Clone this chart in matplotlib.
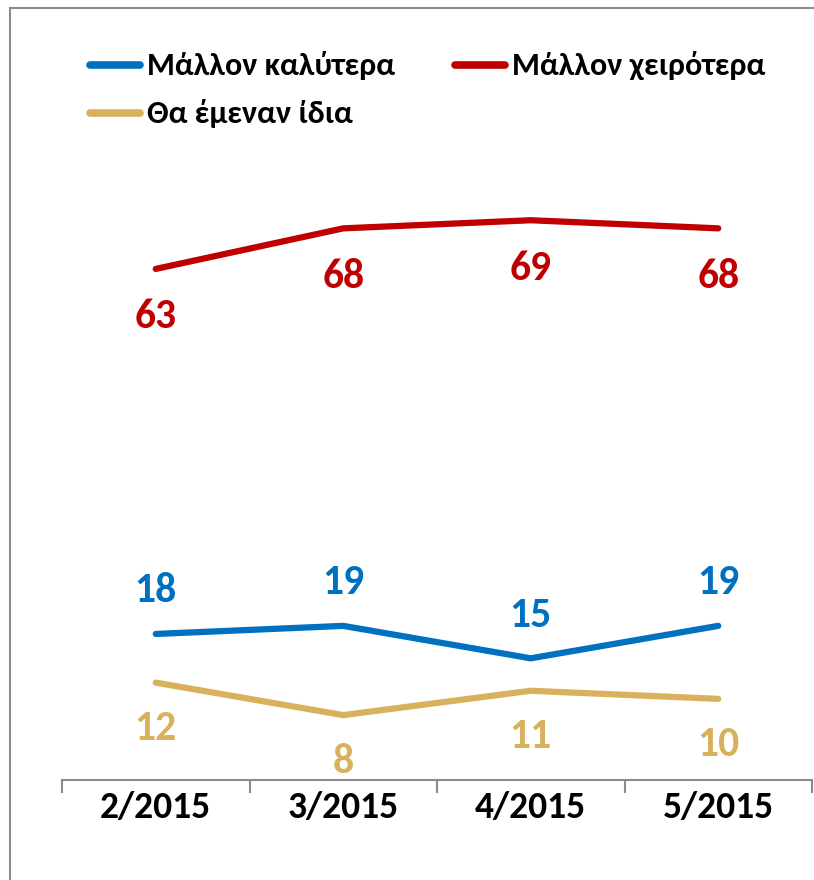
import matplotlib
matplotlib.use("Agg")
import matplotlib.pyplot as plt
from matplotlib.lines import Line2D

plt.rcParams['font.family'] = ['Carlito', 'Liberation Sans Narrow', 'Roboto Condensed', 'DejaVu Sans']

categories = ["2/2015", "3/2015", "4/2015", "5/2015"]
series_names = ["Μάλλον καλύτερα", "Μάλλον χειρότερα", "Θα έμεναν ίδια"]
better = [18, 19, 15, 19]
worse = [63, 68, 69, 68]
same = [12, 8, 11, 10]

colors = ["#0070C0", "#C00000", "#D9B15C"]

W, H = 814, 880
fig = plt.figure(figsize=(W / 100, H / 100), dpi=100)
fig.patch.set_facecolor("white")

# outer frame (top & left visible)
fig.add_artist(Line2D([10 / W, 10 / W], [0, 1 - 8 / H], color="#8c8c8c", lw=1.5))
fig.add_artist(Line2D([10 / W, 1], [1 - 8 / H, 1 - 8 / H], color="#8c8c8c", lw=1.5))

ax = fig.add_axes([62 / W, 100 / H, 750 / W, 649 / H])
ax.set_xlim(-0.5, 3.5)
ax.set_ylim(0, 80)
x = list(range(len(categories)))

series = [better, worse, same]
offsets_px = [43, -48, -46]  # label centre offset from point (pixels)
for vals, c, off in zip(series, colors, offsets_px):
    ax.plot(x, vals, color=c, lw=4.5, solid_capstyle="round", solid_joinstyle="round")
    for xi, v in zip(x, vals):
        ax.annotate(str(v), (xi, v), xytext=(0, off * 0.72), textcoords="offset points",
                    ha="center", va="center",
                    fontsize=30, fontweight="bold", color=c)

for s in ["top", "right", "left"]:
    ax.spines[s].set_visible(False)
ax.spines["bottom"].set_color("#8c8c8c")
ax.spines["bottom"].set_linewidth(1.5)
ax.set_yticks([])
ax.set_xticks(x)
ax.set_xticklabels(categories, fontsize=27, fontweight="bold")
ax.tick_params(axis="x", length=0, pad=8)
for b in [-0.5, 0.5, 1.5, 2.5, 3.5]:
    ax.plot([b, b], [0, -1.5], color="#8c8c8c", lw=1.5, clip_on=False)

# legend
leg_items = [(90, 65, 0), (455, 65, 1), (90, 113, 2)]
for lx, ly, i in leg_items:
    fig.add_artist(Line2D([(lx) / W, (lx + 50) / W], [1 - ly / H, 1 - ly / H],
                          color=colors[i], lw=5.5, solid_capstyle="round"))
    fig.text((lx + 57) / W, 1 - ly / H, series_names[i], fontsize=23,
             fontweight="bold", va="center", ha="left", color="black")

fig.savefig("out.png", dpi=100)
